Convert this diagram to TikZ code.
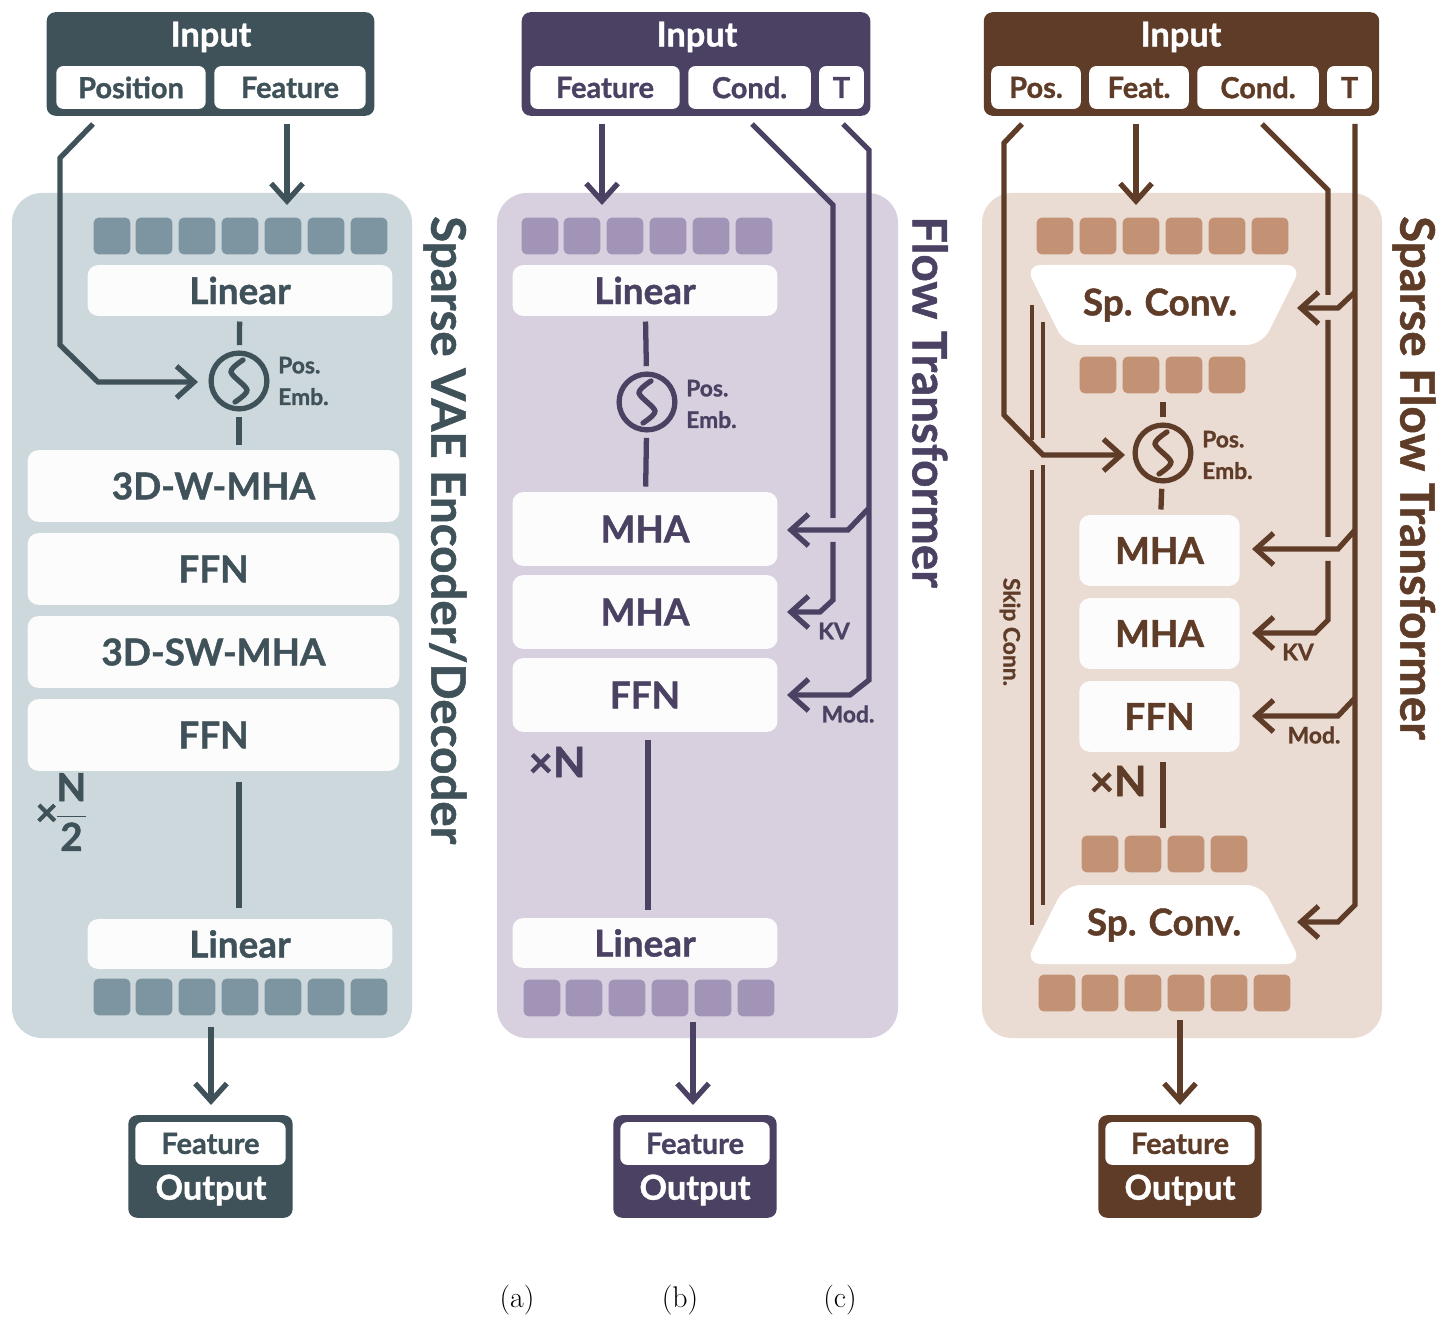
\documentclass[tikz,border=0pt]{standalone}
\usepackage{amsmath}
\usepackage{fontspec}
\newfontfamily\lato{Lato}[FakeBold=1.1]
\usetikzlibrary{arrows.meta}
\definecolor{aDark}{HTML}{3F5159}
\definecolor{aPanel}{HTML}{CDD8DC}
\definecolor{aTok}{HTML}{7C95A1}
\definecolor{bDark}{HTML}{4B4263}
\definecolor{bPanel}{HTML}{D9D0DF}
\definecolor{bTok}{HTML}{A194B7}
\definecolor{cDark}{HTML}{5F3C28}
\definecolor{cPanel}{HTML}{EADCD2}
\definecolor{cTok}{HTML}{C39275}
\def\u{0.5669pt}
\begin{document}
\begin{tikzpicture}[
    x=0.02cm, y=-0.02cm,
    font=\lato,
    bx/.style n args={4}{minimum width={(#3-#1)*\u}, minimum height={(#4-#2)*\u},
        at={({(#1+#3)/2},{(#2+#4)/2})}, inner sep=0pt},
    frame/.style={rectangle, rounded corners=5pt, fill=#1},
    sub/.style={rectangle, rounded corners=4pt, fill=white, text=#1, font=\lato\bfseries\fontsize{16.5}{18}\selectfont},
    blk/.style={rectangle, rounded corners=6pt, fill=white!98!gray, text=#1, font=\lato\bfseries\fontsize{21}{24}\selectfont},
    tok/.style={rectangle, rounded corners=3pt, fill=#1, minimum size=37*\u, inner sep=0pt},
    pe/.style={circle, draw=#1, line width=3pt, minimum size=56*\u, inner sep=0pt},
    lbl/.style={text=#1, align=left, font=\lato\bfseries\fontsize{13}{18}\selectfont},
    side/.style={rotate=-90, anchor=west, text=#1, font=\lato\bfseries\fontsize{27}{30}\selectfont},
    ln/.style={draw=#1, line width=3pt},
    ar/.style={ln=#1, -{Straight Barb[length=10pt,width=18pt]}},
    whitetxt/.style={text=white, font=\lato\bfseries\fontsize{19.5}{22}\selectfont}
]
    \fill[white] (0,0) rectangle (1448,1327);

    % (a) Sparse VAE
    \fill[aPanel, rounded corners=17pt] (12,193) rectangle (412,1038);
    \node[frame=aDark, bx={46}{12}{375}{116}] (inA) {};
    \node[whitetxt] at (211,37) {Input};
    \node[sub=aDark, bx={56}{66}{206}{109}] (posA) {Position};
    \node[sub=aDark, bx={214}{66}{366}{109}] (featA) {Feature};
    \foreach \c in {112,154,197,240,283,326,369} {
        \node[tok=aTok] at (\c,236) {};
        \node[tok=aTok] at (\c,997) {};
    }
    \node[blk=aDark, bx={87}{265}{393}{316}] (linA1) {Linear};
    \node[pe=aDark] (peA) at (239,381) {};
    \draw[ln=aDark, line cap=round] plot[smooth] coordinates {(243,360) (231,372) (247,390) (235,402)};
    \node[lbl=aDark, anchor=west] at (272,381) {Pos.\\Emb.};
    \node[blk=aDark, bx={27}{450}{400}{522}] (wmhaA) {3D-W-MHA};
    \node[blk=aDark, bx={27}{533}{400}{605}] (ffnA1) {FFN};
    \node[blk=aDark, bx={27}{616}{400}{688}] (swmhaA) {3D-SW-MHA};
    \node[blk=aDark, bx={27}{699}{400}{771}] (ffnA2) {FFN};
    \node[text=aDark, font=\lato\bfseries\fontsize{22}{24}\selectfont] (repA) at (62,812)
        {×\hspace{-2pt}$\dfrac{\text{N}}{\text{2}}$};
    \node[blk=aDark, bx={87}{919}{393}{969}] (linA2) {Linear};
    \node[frame=aDark, bx={128}{1115}{293}{1218}] (outA) {};
    \node[sub=aDark, bx={135}{1122}{286}{1165}] {Feature};
    \node[whitetxt] at (211,1190) {Output};
    \node[side=aDark] at (445,210) {Sparse VAE Encoder/Decoder};

    \draw[ln=aDark, shorten <=3pt, shorten >=3pt] (linA1) -- (peA);
    \draw[ln=aDark, shorten <=3pt, shorten >=3pt] (peA) -- (239,450);
    \draw[ln=aDark] (239,782) -- (239,908);
    \draw[ar=aDark] (287,124) -- (287,205);
    \draw[ar=aDark] (93,124) -- (60,158) -- (60,345) -- (98,382) -- (198,382);
    \draw[ar=aDark] (211,1027) -- (211,1105);

    % (b) Flow Transformer
    \fill[bPanel, rounded corners=17pt] (497,193) rectangle (898,1038);
    \node[frame=bDark, bx={521}{12}{871}{116}] (inB) {};
    \node[whitetxt] at (697,37) {Input};
    \node[sub=bDark, bx={530}{66}{680}{109}] (featB) {Feature};
    \node[sub=bDark, bx={688}{66}{811}{109}] (condB) {Cond.};
    \node[sub=bDark, bx={819}{66}{864}{109}] (tB) {T};
    \foreach \c in {540,582,625,668,711,754} {
        \node[tok=bTok] at (\c,236) {};
        \node[tok=bTok] at (\c+2,998) {};
    }
    \node[blk=bDark, bx={512}{265}{778}{316}] (linB1) {Linear};
    \node[pe=bDark] (peB) at (647,402) {};
    \draw[ln=bDark, line cap=round] plot[smooth] coordinates {(651,381) (639,393) (655,411) (643,423)};
    \node[lbl=bDark, anchor=west] at (680,404) {Pos.\\Emb.};
    \node[blk=bDark, bx={512}{492}{778}{566}] (mhaB1) {MHA};
    \node[blk=bDark, bx={512}{575}{778}{649}] (mhaB2) {MHA};
    \node[blk=bDark, bx={512}{658}{778}{732}] (ffnB) {FFN};
    \node[text=bDark, font=\lato\bfseries\fontsize{24}{26}\selectfont] (repB) at (557,762) {×N};
    \node[blk=bDark, bx={512}{918}{778}{968}] (linB2) {Linear};
    \node[frame=bDark, bx={613}{1115}{777}{1218}] (outB) {};
    \node[sub=bDark, bx={620}{1122}{770}{1165}] {Feature};
    \node[whitetxt] at (695,1190) {Output};
    \node[side=bDark] at (930,210) {Flow Transformer};
    \node[lbl=bDark, font=\lato\bfseries\fontsize{13}{15}\selectfont] at (834,631) {KV};
    \node[lbl=bDark, font=\lato\bfseries\fontsize{13}{15}\selectfont] at (848,714) {Mod.};

    \draw[ln=bDark, shorten <=3pt, shorten >=3pt] (linB1) -- (peB);
    \draw[ln=bDark, shorten <=3pt, shorten >=3pt] (peB) -- (mhaB1);
    \draw[ln=bDark] (648,740) -- (648,910);
    \draw[ar=bDark] (602,124) -- (602,205);
    \draw[ln=bDark] (752,124) -- (833,205) -- (833,518);
    \draw[ar=bDark] (833,542) -- (833,600) -- (820,612) -- (787,612);
    \draw[ar=bDark] (843,124) -- (869,150) -- (869,680) -- (850,695) -- (787,695);
    \draw[ar=bDark] (869,508) -- (848,530) -- (787,530);
    \draw[ar=bDark] (693,1022) -- (693,1105);

    % (c) Sparse Flow Transformer
    \fill[cPanel, rounded corners=17pt] (982,193) rectangle (1382,1038);
    \node[frame=cDark, bx={983}{12}{1380}{116}] (inC) {};
    \node[whitetxt] at (1181,37) {Input};
    \node[sub=cDark, bx={991}{66}{1081}{109}] (posC) {Pos.};
    \node[sub=cDark, bx={1089}{66}{1189}{109}] (featC) {Feat.};
    \node[sub=cDark, bx={1197}{66}{1319}{109}] (condC) {Cond.};
    \node[sub=cDark, bx={1327}{66}{1372}{109}] (tC) {T};
    \foreach \c in {1055,1098,1141,1184,1227,1270} {
        \node[tok=cTok] at (\c,236) {};
        \node[tok=cTok] at (\c+2,993) {};
    }
    \foreach \c in {1098,1141,1184,1227} {
        \node[tok=cTok] at (\c,375) {};
        \node[tok=cTok] at (\c+2,854) {};
    }
    \fill[white, rounded corners=9pt] (1025,265) -- (1302,265) -- (1262,345) -- (1065,345) -- cycle;
    \node[text=cDark, font=\lato\bfseries\fontsize{21}{24}\selectfont] (scC1) at (1160,305) {Sp. Conv.};
    \fill[white, rounded corners=9pt] (1065,885) -- (1262,885) -- (1302,964) -- (1025,964) -- cycle;
    \node[text=cDark, font=\lato\bfseries\fontsize{21}{24}\selectfont] (scC2) at (1164,925) {Sp. Conv.};
    \node[pe=cDark] (peC) at (1163,453) {};
    \draw[ln=cDark, line cap=round] plot[smooth] coordinates {(1167,432) (1155,444) (1171,462) (1159,474)};
    \node[lbl=cDark, anchor=west] at (1196,455) {Pos.\\Emb.};
    \node[blk=cDark, bx={1079}{515}{1240}{586}] (mhaC1) {MHA};
    \node[blk=cDark, bx={1079}{598}{1240}{669}] (mhaC2) {MHA};
    \node[blk=cDark, bx={1079}{681}{1240}{752}] (ffnC) {FFN};
    \node[text=cDark, font=\lato\bfseries\fontsize{24}{26}\selectfont] (repC) at (1118,781) {×N};
    \node[frame=cDark, bx={1098}{1115}{1262}{1218}] (outC) {};
    \node[sub=cDark, bx={1105}{1122}{1255}{1165}] {Feature};
    \node[whitetxt] at (1180,1190) {Output};
    \node[side=cDark] at (1414,210) {Sparse Flow Transformer};
    \node[text=cDark, rotate=-90, font=\lato\bfseries\fontsize{13}{15}\selectfont] (skipC) at (1010,632) {Skip Conn.};
    \node[lbl=cDark, font=\lato\bfseries\fontsize{13}{15}\selectfont] at (1298,652) {KV};
    \node[lbl=cDark, font=\lato\bfseries\fontsize{13}{15}\selectfont] at (1314,735) {Mod.};

    \draw[ln=cDark, shorten <=2pt, shorten >=3pt] (1163,398) -- (peC);
    \draw[ln=cDark, shorten <=3pt, shorten >=3pt] (peC) -- (mhaC1);
    \draw[ln=cDark] (1163,762) -- (1163,828);
    \draw[ln=cDark, line width=2.6pt] (1032,305) -- (1032,440) (1032,470) -- (1032,925);
    \draw[ln=cDark, line width=2.6pt] (1043,322) -- (1043,438) (1043,465) -- (1043,905);
    \draw[ar=cDark] (1136,124) -- (1136,205);
    \draw[ar=cDark] (1022,124) -- (1004,143) -- (1004,415) -- (1043,455) -- (1125,455);
    \draw[ln=cDark] (1262,124) -- (1328,190) -- (1328,295) (1328,320) -- (1328,537);
    \draw[ar=cDark] (1328,561) -- (1328,620) -- (1315,633) -- (1252,633);
    \draw[ar=cDark] (1355,124) -- (1355,905) -- (1338,922) -- (1297,922);
    \draw[ar=cDark] (1355,292) -- (1338,308) -- (1297,308);
    \draw[ar=cDark] (1355,530) -- (1338,549) -- (1252,549);
    \draw[ar=cDark] (1355,698) -- (1338,716) -- (1252,716);
    \draw[ar=cDark] (1180,1020) -- (1180,1105);

    % captions
    \node[font=\rmfamily\fontsize{17}{20}\selectfont] (capA) at (517,1300) {(a)};
    \node[font=\rmfamily\fontsize{17}{20}\selectfont] (capB) at (680,1300) {(b)};
    \node[font=\rmfamily\fontsize{17}{20}\selectfont] (capC) at (840,1300) {(c)};
\end{tikzpicture}
\end{document}
